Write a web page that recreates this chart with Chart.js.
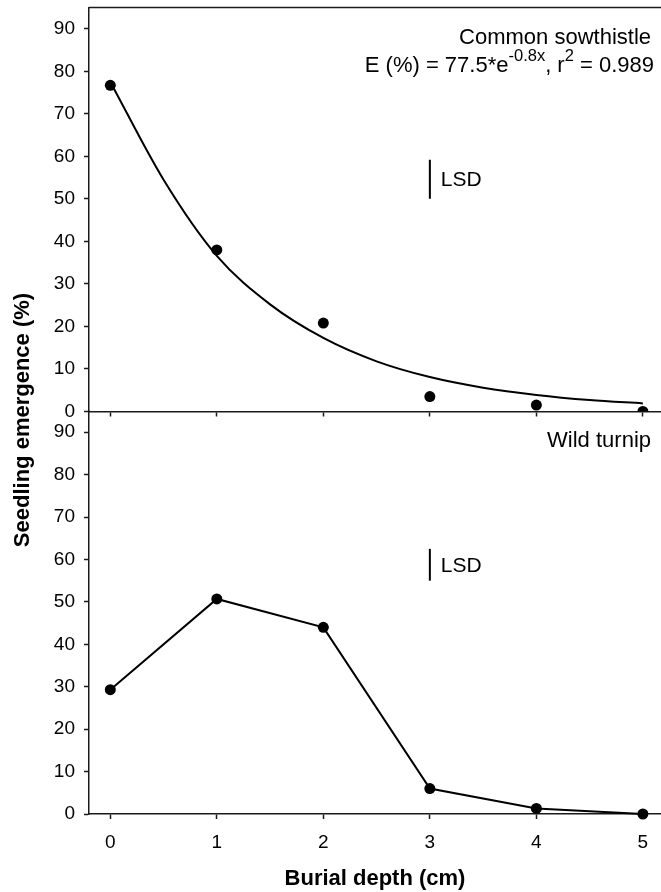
<!DOCTYPE html>
<html><head><meta charset="utf-8">
<script src="https://cdn.jsdelivr.net/npm/chart.js@4.4.1/dist/chart.umd.min.js"></script>
<style>
html,body{margin:0;padding:0;background:#fff;}
#wrap{position:relative;width:661px;height:892px;background:#fff;overflow:hidden}
#pa{position:absolute;left:0;top:0;width:661px;height:430px}
#pb{position:absolute;left:0;top:0;width:661px;height:892px}
</style></head><body>
<div id="wrap"><div id="pa"><canvas id="ca"></canvas></div><div id="pb"><canvas id="cb"></canvas></div></div>
<script>
// ---- data ----
const depthCm = [0, 1, 2, 3, 4, 5];
const sowthistleEmergence = [76.7, 38.0, 20.8, 3.5, 1.5, 0];
const turnipEmergence = [29.3, 50.7, 44.0, 6.0, 1.3, 0];
const fitDepth = [0, 0.5, 1, 1.5, 2, 2.5, 3, 3.5, 4, 4.5, 5];
const fitEmergence = [77.5, 54.5, 36.6, 25.2, 17.3, 11.8, 8.1, 5.6, 3.9, 2.7, 1.9];
const lsdDepth = [3, 3];
const lsdSowthistle = [50.0, 59.2];
const lsdTurnip = [55.0, 62.5];
const xTicks = [0, 1, 2, 3, 4, 5];
const yTicks = [0, 10, 20, 30, 40, 50, 60, 70, 80, 90];
const xRange = [-0.2, 5.17];
const yRange = [0, 95];
const panelTitles = ['Common sowthistle', 'Wild turnip'];
const equationParts = [['E (%) = 77.5*e', false], ['-0.8x', true], [', r', false], ['2', true], [' = 0.989', false]];
const xTitle = 'Burial depth (cm)';
const yTitle = 'Seedling emergence (%)';

const FONT = '"Liberation Sans", Arial, Helvetica, sans-serif';
const INK = '#1a1a1a';
Chart.defaults.font.family = FONT;
Chart.defaults.color = '#000';

const pts = (xs, ys) => xs.map((x, i) => ({x: x, y: ys[i]}));

function zeroPad(s) { s.paddingLeft = 0; s.paddingRight = 0; s.paddingTop = 0; s.paddingBottom = 0; }

function makeScales(bottomPanel, xHeight) {
  return {
    x: {
      type: 'linear', min: xRange[0], max: xRange[1],
      afterBuildTicks: s => { s.ticks = xTicks.map(v => ({value: v})); },
      grid: {display: true, drawOnChartArea: false, drawTicks: true, tickLength: 5, tickColor: INK, tickWidth: 1.5},
      border: {display: true, color: INK, width: 1.5},
      ticks: {display: bottomPanel, padding: 12, color: '#000', font: {size: 19}},
      title: {display: bottomPanel, text: xTitle, color: '#000', font: {size: 22, weight: 'bold'}, padding: 0},
      afterFit: s => { s.height = xHeight; zeroPad(s); }
    },
    y: {
      type: 'linear', min: yRange[0], max: yRange[1],
      afterBuildTicks: s => { s.ticks = yTicks.map(v => ({value: v})); },
      grid: {display: true, drawOnChartArea: false, drawTicks: true, tickLength: 5, tickColor: INK, tickWidth: 1.5},
      border: {display: true, color: INK, width: 1.5},
      ticks: {padding: 9, color: '#000', font: {size: 19}},
      afterFit: s => { s.width = 89; zeroPad(s); }
    }
  };
}

const annotPlugin = {
  id: 'annot',
  afterDatasetsDraw(chart, args, opts) {
    const {ctx, chartArea: a, scales} = chart;
    ctx.save();
    ctx.fillStyle = '#000';
    // panel title
    ctx.font = '22px ' + FONT;
    ctx.textAlign = 'right';
    ctx.textBaseline = 'alphabetic';
    ctx.fillText(opts.title, a.right - 10, a.top + 36);
    // equation
    if (opts.equation) {
      let total = 0;
      const widths = equationParts.map(([t, sup]) => {
        ctx.font = (sup ? '16.5px ' : '22px ') + FONT;
        const w = ctx.measureText(t).width; total += w; return w;
      });
      let x = a.right - 7 - total;
      const base = a.top + 64.5;
      ctx.textAlign = 'left';
      equationParts.forEach(([t, sup], i) => {
        ctx.font = (sup ? '16.5px ' : '22px ') + FONT;
        ctx.fillText(t, x, sup ? base - 11 : base);
        x += widths[i];
      });
    }
    // LSD label
    const lx = scales.x.getPixelForValue(lsdDepth[0]);
    const ly = (scales.y.getPixelForValue(opts.lsd[0]) + scales.y.getPixelForValue(opts.lsd[1])) / 2;
    ctx.font = '21px ' + FONT;
    ctx.textAlign = 'left';
    ctx.textBaseline = 'middle';
    ctx.fillText('LSD', lx + 11, ly + 1);
    // top frame
    if (opts.frame) {
      ctx.strokeStyle = INK; ctx.lineWidth = 1.5;
      ctx.beginPath(); ctx.moveTo(a.left, a.top); ctx.lineTo(a.right, a.top); ctx.stroke();
    }
    // y title
    if (opts.yTitle) {
      ctx.font = 'bold 22px ' + FONT;
      ctx.textAlign = 'center';
      ctx.textBaseline = 'middle';
      ctx.translate(23, 420);
      ctx.rotate(-Math.PI / 2);
      ctx.fillText(yTitle, 0, 0);
    }
    ctx.restore();
  }
};

const common = {
  responsive: true, maintainAspectRatio: false, animation: false, devicePixelRatio: 1,
  plugins: {legend: {display: false}, tooltip: {enabled: false}}
};

new Chart(document.getElementById('ca'), {
  type: 'line',
  data: {datasets: [
    {data: pts(fitDepth, fitEmergence), borderColor: '#000', borderWidth: 2, pointRadius: 0, cubicInterpolationMode: 'monotone', fill: false},
    {data: pts(depthCm, sowthistleEmergence), showLine: false, pointRadius: 5.5, pointBackgroundColor: '#000', pointBorderColor: '#000', pointBorderWidth: 0,
     clip: {left: 20, right: 20, top: 20, bottom: 0}},
    {data: pts(lsdDepth, lsdSowthistle), borderColor: '#000', borderWidth: 2, pointRadius: 0}
  ]},
  options: Object.assign({}, common, {
    layout: {autoPadding: false, padding: {top: 7.5, left: 0, right: 0, bottom: 0}},
    scales: makeScales(false, 18.5),
    plugins: Object.assign({}, common.plugins, {annot: {title: panelTitles[0], equation: true, lsd: lsdSowthistle, frame: true}})
  }),
  plugins: [annotPlugin]
});

new Chart(document.getElementById('cb'), {
  type: 'line',
  data: {datasets: [
    {data: pts(depthCm, turnipEmergence), borderColor: '#000', borderWidth: 2, pointRadius: 5.5, pointBackgroundColor: '#000', pointBorderColor: '#000', pointBorderWidth: 0, tension: 0, clip: false},
    {data: pts(lsdDepth, lsdTurnip), borderColor: '#000', borderWidth: 2, pointRadius: 0}
  ]},
  options: Object.assign({}, common, {
    layout: {autoPadding: false, padding: {top: 411, left: 0, right: 0, bottom: 0}},
    scales: makeScales(true, 78),
    plugins: Object.assign({}, common.plugins, {annot: {title: panelTitles[1], equation: false, lsd: lsdTurnip, frame: false, yTitle: true}})
  }),
  plugins: [annotPlugin]
});
</script>
</body></html>
